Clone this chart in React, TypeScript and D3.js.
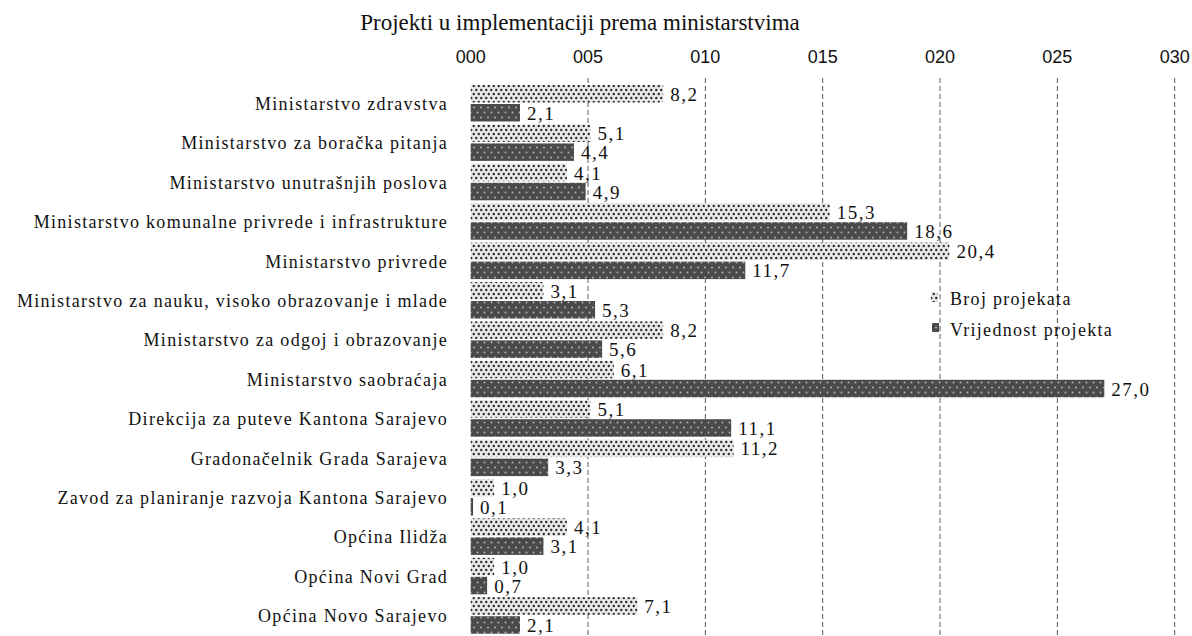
import React from 'react';
import * as d3 from 'd3';

const categories = [
  'Ministarstvo zdravstva',
  'Ministarstvo za boračka pitanja',
  'Ministarstvo unutrašnjih poslova',
  'Ministarstvo komunalne privrede i infrastrukture',
  'Ministarstvo privrede',
  'Ministarstvo za nauku, visoko obrazovanje i mlade',
  'Ministarstvo za odgoj i obrazovanje',
  'Ministarstvo saobraćaja',
  'Direkcija za puteve Kantona Sarajevo',
  'Gradonačelnik Grada Sarajeva',
  'Zavod za planiranje razvoja Kantona Sarajevo',
  'Općina Ilidža',
  'Općina Novi Grad',
  'Općina Novo Sarajevo',
];

const brojProjekata = [8.2, 5.1, 4.1, 15.3, 20.4, 3.1, 8.2, 6.1, 5.1, 11.2, 1.0, 4.1, 1.0, 7.1];
const vrijednostProjekta = [2.1, 4.4, 4.9, 18.6, 11.7, 5.3, 5.6, 27.0, 11.1, 3.3, 0.1, 3.1, 0.7, 2.1];

const seriesNames = ['Broj projekata', 'Vrijednost projekta'];
const tickValues = [0, 5, 10, 15, 20, 25, 30];

const W = 1192;
const H = 636;
const serif = '"Liberation Serif", "Times New Roman", serif';
const sans = '"Liberation Sans", Arial, sans-serif';

export default function App() {
  const x = d3.scaleLinear().domain([0, 30]).range([470.7, 1174.7]);
  const y = d3.scaleBand<string>().domain(categories).range([85, 85 + 39.4 * categories.length]).padding(0);
  const sub = d3.scaleBand<string>().domain(seriesNames).range([0, 36.5]).paddingInner(0.08);
  const fmtTick = d3.format('03d');
  const fmtVal = (v: number) => v.toFixed(1).replace('.', ',');
  const fills = ['url(#patBroj)', 'url(#patVrij)'];
  const series = [brojProjekata, vrijednostProjekta];

  return (
    <svg width={W} height={H} style={{ position: 'absolute', left: 0, top: 0, background: '#fff' }}>
      <defs>
        <pattern id="patBroj" width={5} height={8} patternUnits="userSpaceOnUse">
          <rect width={5} height={8} fill="#e8e8e8" />
          <circle cx={1.25} cy={2} r={1.2} fill="#2a2a2a" />
          <circle cx={3.75} cy={6} r={1.2} fill="#2a2a2a" />
        </pattern>
        <pattern id="patVrij" width={7} height={10} patternUnits="userSpaceOnUse">
          <rect width={7} height={10} fill="#4a4a4a" />
          <circle cx={1.5} cy={2.5} r={1} fill="#b0b0b0" />
          <circle cx={5} cy={7.5} r={1} fill="#b0b0b0" />
        </pattern>
      </defs>

      <text x={580} y={30} textAnchor="middle" fontFamily={serif} fontSize={23} fill="#111">
        Projekti u implementaciji prema ministarstvima
      </text>

      {tickValues.map(t => (
        <g key={t}>
          <text x={x(t)} y={63} textAnchor="middle" fontFamily={sans} fontSize={18} fill="#111">
            {fmtTick(t)}
          </text>
          {t > 0 && (
            <line x1={x(t)} x2={x(t)} y1={78} y2={H} stroke="#5a5a5a" strokeWidth={1} strokeDasharray="5,3" />
          )}
        </g>
      ))}

      {categories.map((c, i) => (
        <g key={c}>
          <text
            x={448}
            y={(y(c) ?? 0) + 18 + 7}
            textAnchor="end"
            fontFamily={serif}
            fontSize={18}
            letterSpacing={1.3}
            fill="#111"
          >
            {c}
          </text>
          {series.map((vals, s) => {
            const top = (y(c) ?? 0) + (sub(seriesNames[s]) ?? 0);
            const h = sub.bandwidth();
            return (
              <g key={s}>
                <rect x={x(0)} y={top} width={x(vals[i]) - x(0)} height={h} fill={fills[s]} />
                <text
                  x={x(vals[i]) + 7}
                  y={top + h / 2 + 7}
                  fontFamily={serif}
                  fontSize={19}
                  letterSpacing={1.5}
                  fill="#111"
                >
                  {fmtVal(vals[i])}
                </text>
              </g>
            );
          })}
        </g>
      ))}

      <g>
        <rect x={931} y={292} width={7} height={10} fill="url(#patBroj)" />
        <text x={950} y={305} fontFamily={serif} fontSize={18} letterSpacing={1.3} fill="#111">{seriesNames[0]}</text>
        <rect x={932} y={323} width={7} height={9} fill="url(#patVrij)" />
        <text x={950} y={336} fontFamily={serif} fontSize={18} letterSpacing={1.3} fill="#111">{seriesNames[1]}</text>
      </g>
    </svg>
  );
}
